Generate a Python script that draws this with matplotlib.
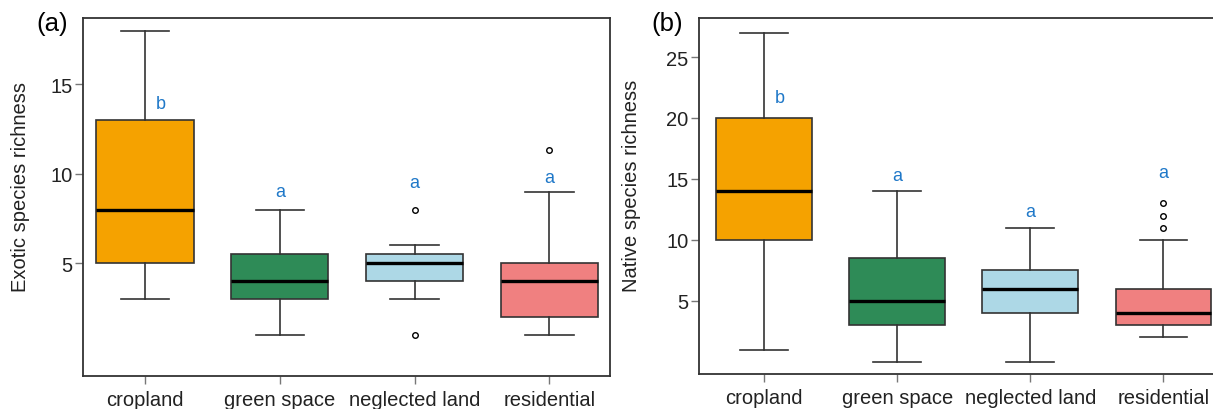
import matplotlib
matplotlib.use("Agg")
import matplotlib.pyplot as plt

plt.rcParams['font.family'] = ['Liberation Sans', 'DejaVu Sans']

# data
categories = ['cropland', 'green space', 'neglected land', 'residential']
box_colors = ['#F5A200', '#2E8B57', '#ADD8E6', '#F08080']

# (a) exotic species richness: whislo, q1, median, q3, whishi
exotic_whislo = [3, 1, 3, 1]
exotic_q1 = [5, 3, 4, 2]
exotic_med = [8, 4, 5, 4]
exotic_q3 = [13, 5.5, 5.5, 5]
exotic_whishi = [18, 8, 6, 9]
exotic_fliers = [[], [], [8, 1], [11.3]]
exotic_letters = ['b', 'a', 'a', 'a']
exotic_letter_y = [13.9, 9.0, 9.5, 9.8]

# (b) native species richness
native_whislo = [1, 0, 0, 2]
native_q1 = [10, 3, 4, 3]
native_med = [14, 5, 6, 4]
native_q3 = [20, 8.5, 7.5, 6]
native_whishi = [27, 14, 11, 10]
native_fliers = [[], [], [], [11, 12, 13]]
native_letters = ['b', 'a', 'a', 'a']
native_letter_y = [21.7, 15.3, 12.3, 15.5]

W, H = 1213, 410
fig = plt.figure(figsize=(W / 100, H / 100), dpi=100)

edge = '#333333'
letter_color = '#1F78C8'


def draw_panel(ax, whislo, q1, med, q3, whishi, fliers, letters, letter_y,
               ylabel, yticks, ylim, xlim, tag, tag_x):
    stats = []
    for i in range(len(categories)):
        stats.append(dict(whislo=whislo[i], q1=q1[i], med=med[i], q3=q3[i],
                          whishi=whishi[i], fliers=fliers[i]))
    bp = ax.bxp(stats, positions=range(1, 5), widths=0.72, patch_artist=True,
                capwidths=0.36, showfliers=True,
                boxprops=dict(edgecolor=edge, linewidth=1.2),
                medianprops=dict(color='black', linewidth=2.4),
                whiskerprops=dict(color=edge, linewidth=1.2),
                capprops=dict(color=edge, linewidth=1.2),
                flierprops=dict(marker='o', markersize=4, markerfacecolor='none',
                                markeredgecolor='black', markeredgewidth=1.0))
    for patch, c in zip(bp['boxes'], box_colors):
        patch.set_facecolor(c)

    # significance letters; the "b" sits to the right of the whisker
    for i, (lab, y) in enumerate(zip(letters, letter_y)):
        dx = 0.12 if lab == 'b' else 0
        ax.text(i + 1 + dx, y, lab, color=letter_color, fontsize=13,
                ha='center', va='center')

    ax.set_xlim(*xlim)
    ax.set_ylim(*ylim)
    ax.set_xticks(range(1, 5))
    ax.set_xticklabels(categories)
    ax.set_yticks(yticks)
    ax.set_ylabel(ylabel, fontsize=14.5, color='#222222')
    ax.tick_params(axis='both', labelsize=14.5, colors='#777777',
                   labelcolor='#222222', length=5.5, width=1)
    ax.tick_params(axis='y', pad=2)
    ax.tick_params(axis='x', pad=4.5)
    for s in ax.spines.values():
        s.set_color(edge)
        s.set_linewidth(1.3)
    fig.text(tag_x, 1 - 12 / H, tag, fontsize=18.5, ha='left', va='top')


# panel (a)
ax1 = fig.add_axes([83 / W, 1 - 377 / H, (610 - 83) / W, (377 - 19) / H])
draw_panel(ax1, exotic_whislo, exotic_q1, exotic_med, exotic_q3, exotic_whishi,
           exotic_fliers, exotic_letters, exotic_letter_y,
           'Exotic species richness', [5, 10, 15], (-1.3, 18.7), (0.54, 4.45),
           '(a)', 36 / W)
ax1.yaxis.set_label_coords(-0.10, 0.53)

# panel (b) runs past the right edge of the picture, as in the reference
ax2 = fig.add_axes([699 / W, 1 - 375 / H, (1230 - 699) / W, (375 - 19) / H])
draw_panel(ax2, native_whislo, native_q1, native_med, native_q3, native_whishi,
           native_fliers, native_letters, native_letter_y,
           'Native species richness', [5, 10, 15, 20, 25], (-1.0, 28.2), (0.51, 4.5),
           '(b)', 651 / W)
ax2.yaxis.set_label_coords(-0.109, 0.53)

fig.savefig('out.png', dpi=100)
